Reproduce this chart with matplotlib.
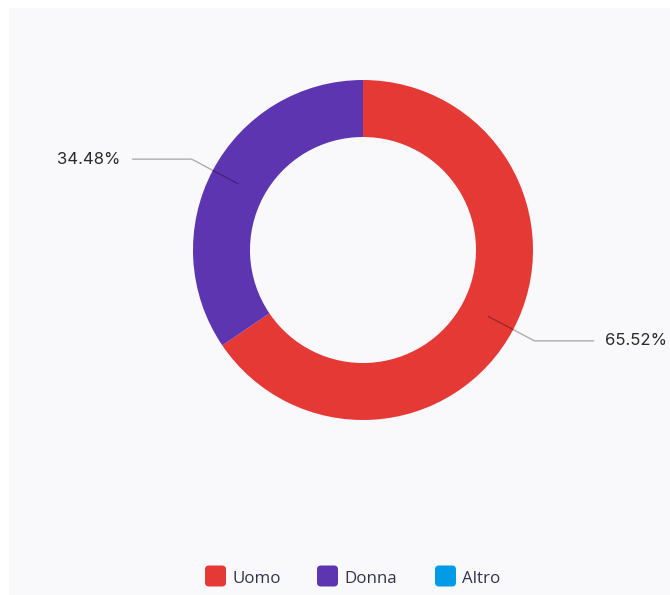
import matplotlib
matplotlib.use('Agg')
import numpy as np
import matplotlib.pyplot as plt
from matplotlib.patches import Rectangle, FancyBboxPatch

labels = ['Uomo', 'Donna', 'Altro']
counts = [19, 10, 0]
colors = ['#e53935', '#5e35b1', '#039be5']

W, H = 670, 595
fig = plt.figure(figsize=(W / 100, H / 100), dpi=100)
fig.patch.set_facecolor('white')
ax = fig.add_axes([0, 0, 1, 1])

cx, cy = 363, H - 250
r_out = 170
ring = 57

wedges, _ = ax.pie(counts, colors=colors, startangle=90, counterclock=False,
                   radius=r_out, center=(cx, cy),
                   wedgeprops=dict(width=ring, linewidth=0))
for w in wedges:
    w.set_zorder(2)

# pie() resets the limits, so set the pixel frame afterwards
ax.set_xlim(0, W)
ax.set_ylim(0, H)
ax.set_aspect('equal')
ax.axis('off')

# card background
ax.add_patch(Rectangle((9, 0), W - 9, H - 8, facecolor='#f9f9fb', edgecolor='none', zorder=0))

# percentage labels with elbow leader lines
total = sum(counts)
for w, c in zip(wedges, counts):
    if c == 0:
        continue
    pct = c / total * 100
    ang = np.deg2rad((w.theta1 + w.theta2) / 2)
    r_mid = r_out - ring / 2 + 0.5
    x0, y0 = cx + r_mid * np.cos(ang), cy + r_mid * np.sin(ang)
    x1, y1 = cx + 194 * np.cos(ang), cy + 194 * np.sin(ang)
    side = 1 if np.cos(ang) > 0 else -1
    x2 = x1 + side * 59
    ax.plot([x0, x1, x2], [y0, y1, y1], color='black', alpha=0.3, lw=1, zorder=3)
    ax.text(x2 + side * 12, y1, f'{pct:.2f}%', ha='left' if side > 0 else 'right',
            va='center', fontsize=12, family='Inter', color='#2a2a2a', zorder=4)

# legend row
legend_x = [205, 317, 435]
ly = H - 576
for lx, lab, col in zip(legend_x, labels, colors):
    ax.add_patch(FancyBboxPatch((lx + 2, ly - 8.5), 17, 17,
                                boxstyle='round,pad=2,rounding_size=4',
                                facecolor=col, edgecolor='none', zorder=3))
    ax.text(lx + 27, H - 583, lab, ha='left', va='baseline', fontsize=12.2,
            family='Open Sans', color='#33334a', zorder=4)

fig.savefig('out.png', dpi=100, facecolor='white')
